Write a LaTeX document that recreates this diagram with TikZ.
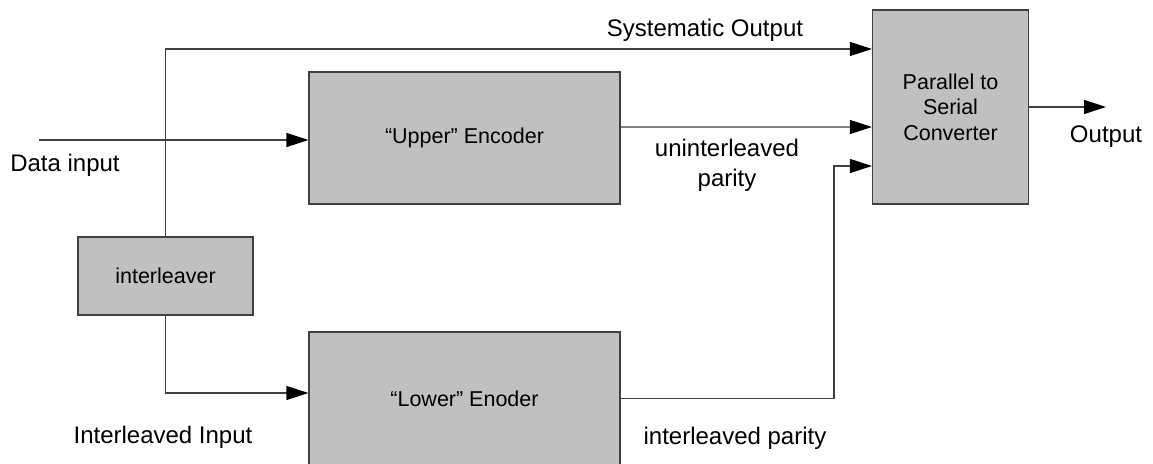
\documentclass[tikz,border=0pt]{standalone}
\usepackage{fontspec}
\setmainfont{Liberation Sans}
\usetikzlibrary{arrows.meta}
\definecolor{boxfill}{HTML}{C0C0C0}
\definecolor{linec}{HTML}{404040}
\begin{document}
\begin{tikzpicture}[x=1bp,y=-1bp,
  blk/.style={draw=linec, fill=boxfill, line width=1.2bp, inner sep=0pt, align=center,
    font=\fontsize{21.5bp}{25.5bp}\selectfont},
  lbl/.style={inner sep=0pt, align=center, font=\fontsize{24bp}{30bp}\selectfont},
  conn/.style={draw=linec, line width=1.2bp},
  arr/.style={conn, -{Triangle[length=22bp,width=14bp,black]}}]
\clip (0,0) rectangle (1153,464);
\fill[white] (0,0) rectangle (1153,464);
% blocks
\node[blk, minimum width=175bp, minimum height=78bp] (intl) at (165.5,276) {interleaver};
\node[blk, minimum width=311bp, minimum height=132bp] (ue) at (464.5,138) {“Upper” Encoder};
\node[blk, minimum width=311bp, minimum height=133bp] (le) at (464.5,398.5) {“Lower” Enoder};
\node[blk, minimum width=156bp, minimum height=194bp] (ps) at (950.5,107) {Parallel to\\Serial\\Converter};
% free ends
\coordinate (din) at (39,140);
\coordinate (out) at (1106,107);
% connectors
\draw[arr] (intl.north) |- ([yshift=58bp]ps.west);
\draw[arr] (din) -- (din -| ue.west);
\draw[arr] ([yshift=11bp]ue.east) -- ([yshift=-20bp]ps.west);
\draw[arr] (le.east) -| ([xshift=-38bp,yshift=-59bp]ps.west) -- ([yshift=-59bp]ps.west);
\draw[arr] (intl.south) |- ([yshift=5.5bp]le.west);
\draw[arr] (ps.east) -- (out);
% labels
\node[lbl] (lsys) at (705,30) {Systematic Output};
\node[lbl] (ldin) at (65,165) {Data input};
\node[lbl] (lunp) at (727,165) {uninterleaved\\parity};
\node[lbl] (lii) at (163,437) {Interleaved Input};
\node[lbl] (lip) at (735,438) {interleaved parity};
\node[lbl] (lout) at (1106,137) {Output};
\end{tikzpicture}
\end{document}
